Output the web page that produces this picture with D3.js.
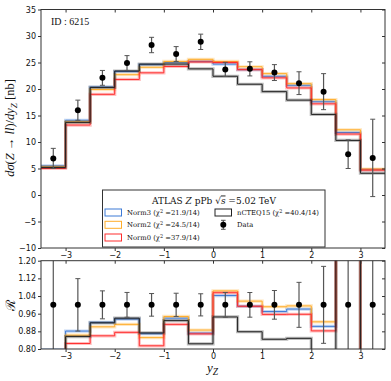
<!DOCTYPE html>
<html>
<head>
<meta charset="utf-8">
<script src="https://cdn.jsdelivr.net/npm/d3@7"></script>
<style>
body { margin: 0; background: #fff; }
svg { display: block; }
.tick text { font-family: "DejaVu Sans", sans-serif; font-size: 8px; fill: #111; }
.serif { font-family: "Liberation Serif", "DejaVu Serif", serif; fill: #111; }
.dserif { font-family: "DejaVu Serif", serif; fill: #111; }
</style>
</head>
<body>
<script>
// bins in y_Z
var binEdges = [-3.5, -3, -2.5, -2, -1.5, -1, -0.5, 0, 0.5, 1, 1.5, 2, 2.5, 3, 3.5];

// ATLAS data [nb]
var dataVal = [6.9, 16.0, 22.1, 24.9, 28.3, 26.6, 28.9, 23.7, 23.8, 23.1, 21.1, 19.5, 7.7, 7.0];
var dataErr = [1.9, 1.9, 1.4, 1.4, 1.45, 1.4, 1.45, 1.33, 1.33, 1.5, 2.15, 3.4, 2.7, 7.3];

// predictions per bin
var norm3 = [5.5, 14.1, 20.35, 23.3, 24.6, 25.0, 25.2, 24.7, 23.65, 22.4, 20.7, 17.6, 11.8, 4.8];
var norm2 = [5.3, 13.8, 19.9, 22.7, 24.1, 25.2, 25.6, 25.2, 24.2, 22.9, 21.0, 18.0, 12.3, 4.9];
var norm0 = [5.0, 13.2, 19.0, 21.8, 23.05, 24.25, 25.1, 25.0, 23.65, 22.1, 20.2, 17.2, 11.5, 4.7];
var ncteq = [5.2, 13.7, 20.3, 23.4, 24.7, 24.7, 23.8, 22.4, 20.9, 19.5, 17.9, 15.2, 10.3, 4.1];

var seriesNames = ['Norm3', 'Norm2', 'Norm0', 'nCTEQ15'];
var seriesChi = ['21.9/14', '24.5/14', '37.9/14', '40.4/14'];
var seriesColors = ['#3d7ad6', '#ffad2a', '#ff2e2e', '#222222'];
var seriesValues = [norm3, norm2, norm0, ncteq];

var yTicksTop = [-10, -5, 0, 5, 10, 15, 20, 25, 30, 35];
var yTicksBot = [0.80, 0.88, 0.96, 1.04, 1.12, 1.20];
var xTicks = [-3, -2, -1, 0, 1, 2, 3];

var width = 391, height = 381;
var left = 41, right = 385;
var top1 = 9.5, bot1 = 248, top2 = 260.7, bot2 = 349;

var x = d3.scaleLinear().domain([-3.5, 3.5]).range([left, right]);
var yTop = d3.scaleLinear().domain([-10, 35]).range([bot1, top1]);
var yBot = d3.scaleLinear().domain([0.8, 1.2]).range([bot2, top2]);

var binCenters = d3.pairs(binEdges).map(function(p) { return (p[0] + p[1]) / 2; });

var svg = d3.select('body').append('svg')
    .attr('width', width)
    .attr('height', height);

var defs = svg.append('defs');
defs.append('clipPath').attr('id', 'clipTop').append('rect')
    .attr('x', left).attr('y', top1).attr('width', right - left).attr('height', bot1 - top1);
defs.append('clipPath').attr('id', 'clipBot').append('rect')
    .attr('x', left).attr('y', top2).attr('width', right - left).attr('height', bot2 - top2);

function stepData(vals) {
  return binEdges.map(function(e, i) { return [e, vals[Math.min(i, vals.length - 1)]]; });
}

function drawPanel(yScale, clipId, transform, errFn, valFn) {
  var g = svg.append('g').attr('clip-path', 'url(#' + clipId + ')');
  var line = d3.line().curve(d3.curveStepAfter)
      .x(function(d) { return x(d[0]); })
      .y(function(d) { return yScale(d[1]); });

  seriesValues.forEach(function(vals, k) {
    var v = vals.map(transform);
    g.append('path').attr('d', line(stepData(v)))
        .attr('fill', 'none').attr('stroke', seriesColors[k])
        .attr('stroke-width', 3.2).attr('stroke-opacity', 0.3);
    g.append('path').attr('d', line(stepData(v)))
        .attr('fill', 'none').attr('stroke', seriesColors[k])
        .attr('stroke-width', 1);
  });

  // data points with error bars
  var pts = g.selectAll('g.pt').data(binCenters).enter().append('g');
  pts.append('line')
      .attr('x1', function(d) { return x(d); }).attr('x2', function(d) { return x(d); })
      .attr('y1', function(d, i) { return yScale(valFn(i) - errFn(i)); })
      .attr('y2', function(d, i) { return yScale(valFn(i) + errFn(i)); })
      .attr('stroke', '#555').attr('stroke-width', 1.2);
  [-1, 1].forEach(function(s) {
    pts.append('line')
        .attr('x1', function(d) { return x(d) - 2.5; }).attr('x2', function(d) { return x(d) + 2.5; })
        .attr('y1', function(d, i) { return yScale(valFn(i) + s * errFn(i)); })
        .attr('y2', function(d, i) { return yScale(valFn(i) + s * errFn(i)); })
        .attr('stroke', '#555').attr('stroke-width', 1);
  });
  pts.append('circle')
      .attr('cx', function(d) { return x(d); })
      .attr('cy', function(d, i) { return yScale(valFn(i)); })
      .attr('r', 3).attr('fill', '#000');
}

// top panel: cross sections
drawPanel(yTop, 'clipTop', function(v) { return v; },
  function(i) { return dataErr[i]; }, function(i) { return dataVal[i]; });

// bottom panel: ratio to data
drawPanel(yBot, 'clipBot', function(v, i) { return v / dataVal[i]; },
  function(i) { return dataErr[i] / dataVal[i]; }, function() { return 1; });

// axes
function axes(yScale, yt, fmt, yTopPx, yBotPx) {
  svg.append('g').attr('transform', 'translate(' + left + ',0)')
      .call(d3.axisLeft(yScale).tickValues(yt).tickFormat(fmt).tickSize(3).tickSizeOuter(0).tickPadding(2));
  svg.append('g').attr('transform', 'translate(' + right + ',0)')
      .call(d3.axisLeft(yScale).tickValues(yt).tickFormat('').tickSize(3).tickSizeOuter(0));
  svg.append('g').attr('transform', 'translate(0,' + yBotPx + ')')
      .call(d3.axisBottom(x).tickValues(xTicks).tickFormat(d3.format('d')).tickSize(3).tickSizeOuter(0).tickPadding(1.5));
  svg.append('g').attr('transform', 'translate(0,' + yTopPx + ')')
      .call(d3.axisBottom(x).tickValues(xTicks).tickFormat('').tickSize(3).tickSizeOuter(0));
  svg.append('rect').attr('x', left).attr('y', yTopPx)
      .attr('width', right - left).attr('height', yBotPx - yTopPx)
      .attr('fill', 'none').attr('stroke', '#333').attr('stroke-width', 1);
}
axes(yTop, yTicksTop, d3.format('d'), top1, bot1);
axes(yBot, yTicksBot, d3.format('.2f'), top2, bot2);
svg.selectAll('.domain').remove();
svg.selectAll('.tick line').attr('stroke', '#333');

// legend
var lg = svg.append('g');
lg.append('rect').attr('x', 102.5).attr('y', 190).attr('width', 222.5).attr('height', 57)
    .attr('fill', '#fff').attr('stroke', '#333').attr('stroke-width', 1);
var ttl = lg.append('text').attr('class', 'dserif').attr('x', 214).attr('y', 203.5)
    .attr('text-anchor', 'middle').style('font-size', '9px');
ttl.append('tspan').text('ATLAS  ');
ttl.append('tspan').attr('font-style', 'italic').text('Z');
ttl.append('tspan').text(' pPb  \u221A');
ttl.append('tspan').attr('font-style', 'italic').attr('text-decoration', 'overline').text('s');
ttl.append('tspan').text(' =5.02 TeV');

var rows = [212.5, 224.8, 237.5];
var cols = [105, 215];
seriesNames.forEach(function(name, k) {
  var cx = k < 3 ? cols[0] : cols[1];
  var cy = k < 3 ? rows[k] : rows[0];
  lg.append('rect').attr('x', cx).attr('y', cy - 3.5).attr('width', 16.5).attr('height', 7)
      .attr('fill', '#fff').attr('stroke', seriesColors[k]).attr('stroke-width', 1);
  var t = lg.append('text').attr('class', 'dserif').attr('x', cx + 22).attr('y', cy + 2.5)
      .style('font-size', '6.8px');
  t.append('tspan').text(name + ' (\u03C7');
  t.append('tspan').attr('dy', -2.5).style('font-size', '5px').text('2');
  t.append('tspan').attr('dy', 2.5).text(' =' + seriesChi[k] + ')');
});
lg.append('line').attr('x1', 223.3).attr('x2', 223.3).attr('y1', rows[1] - 4.5).attr('y2', rows[1] + 4.5)
    .attr('stroke', '#555').attr('stroke-width', 1.2);
[-4.5, 4.5].forEach(function(o) {
  lg.append('line').attr('x1', 221).attr('x2', 225.6).attr('y1', rows[1] + o).attr('y2', rows[1] + o)
      .attr('stroke', '#555');
});
lg.append('circle').attr('cx', 223.3).attr('cy', rows[1]).attr('r', 3).attr('fill', '#000');
lg.append('text').attr('class', 'dserif').attr('x', 237).attr('y', rows[1] + 2.5)
    .style('font-size', '6.8px').text('Data');

// labels
svg.append('text').attr('class', 'serif').attr('x', 51).attr('y', 24.5)
    .style('font-size', '10px').text('ID : 6215');

var yl = svg.append('text').attr('class', 'serif')
    .attr('transform', 'translate(14,128) rotate(-90)')
    .attr('text-anchor', 'middle').style('font-size', '12.5px');
yl.append('tspan').attr('font-style', 'italic').text('d\u03C3');
yl.append('tspan').text('(');
yl.append('tspan').attr('font-style', 'italic').text('Z');
yl.append('tspan').text(' \u2192 ');
yl.append('tspan').attr('font-style', 'italic').text('ll');
yl.append('tspan').text(')/');
yl.append('tspan').attr('font-style', 'italic').text('dy');
yl.append('tspan').attr('font-style', 'italic').attr('dy', 2.5).style('font-size', '9px').text('Z');
yl.append('tspan').attr('dy', -2.5).text(' [nb]');

svg.append('text').attr('class', 'serif')
    .attr('transform', 'translate(15,305) rotate(-90)')
    .attr('text-anchor', 'middle').style('font-size', '13px').text('\u211B');

var xl = svg.append('text').attr('class', 'serif').attr('x', 207).attr('y', 372)
    .style('font-size', '13px');
xl.append('tspan').attr('font-style', 'italic').text('y');
xl.append('tspan').attr('font-style', 'italic').attr('dy', 2.5).style('font-size', '9.5px').text('Z');
</script>
</body>
</html>
